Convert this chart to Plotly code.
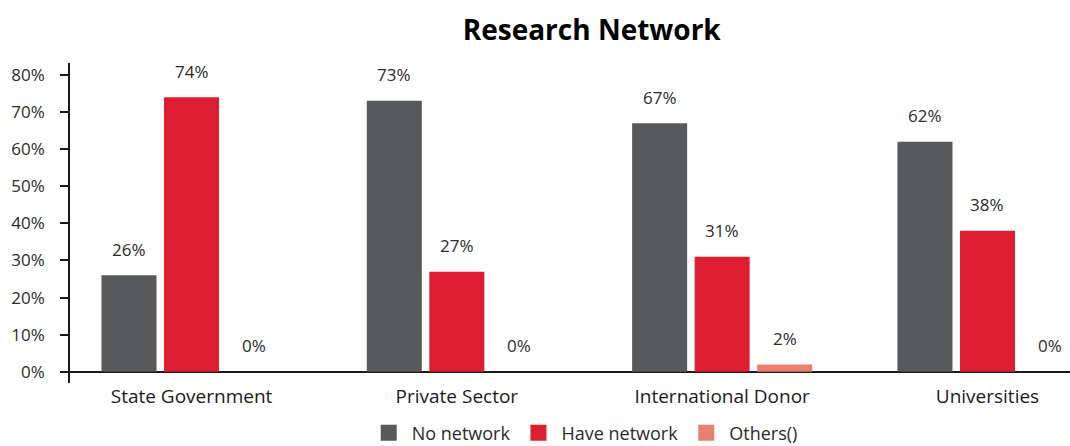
import plotly.graph_objects as go

# Survey results: share of respondents by research-network status
categories = ["State Government", "Private Sector", "International Donor", "Universities"]
no_network = [26, 73, 67, 62]
have_network = [74, 27, 31, 38]
others = [0, 0, 2, 0]

series_names = ["No network", "Have network", "Others()"]
series_values = [no_network, have_network, others]
series_colors = ["#58595b", "#de1e32", "#e9806e"]

FONT = "Open Sans"
TEXT_COLOR = "#2b2b2b"
BARGAP = 0.293
BARGROUPGAP = 0.12

fig = go.Figure()
xs = list(range(len(categories)))
for name, vals, color in zip(series_names, series_values, series_colors):
    fig.add_trace(go.Bar(
        x=xs, y=vals, name=name, showlegend=False,
        marker=dict(color=color, line=dict(width=0)),
        hoverinfo="skip",
    ))

# legend entries with larger square swatches
for name, color in zip(series_names, series_colors):
    fig.add_trace(go.Scatter(
        x=[None], y=[None], mode="markers", name=name,
        marker=dict(symbol="square", size=20, color=color, line=dict(width=0)),
        hoverinfo="skip",
    ))

# value labels above each bar, offset to the bar's slot within the group
slot = (1 - BARGAP) / len(series_names)
annotations = []
for k, vals in enumerate(series_values):
    offset = (k - (len(series_names) - 1) / 2) * slot
    for i, v in enumerate(vals):
        annotations.append(dict(
            x=i + offset, y=v, xref="x", yref="y",
            text=f"{v}%", showarrow=False, yshift=26,
            font=dict(family=FONT, size=17, color=TEXT_COLOR),
        ))

fig.update_layout(
    width=1070, height=446,
    margin=dict(l=70, r=0, t=63, b=63),
    paper_bgcolor="white", plot_bgcolor="white",
    barmode="group", bargap=BARGAP, bargroupgap=BARGROUPGAP,
    title=dict(
        text="<b>Research Network</b>", x=0.553, xanchor="center",
        y=0.933, yanchor="middle", xref="container", yref="container",
        font=dict(family=FONT, size=28, color="#000000"),
    ),
    font=dict(family=FONT, size=17, color=TEXT_COLOR),
    showlegend=True,
    legend=dict(
        orientation="h", x=0.546, xanchor="center", xref="container",
        y=0.029, yanchor="middle", yref="container",
        font=dict(family=FONT, size=18, color=TEXT_COLOR),
        traceorder="normal", itemwidth=36, itemsizing="trace",
    ),
    annotations=annotations,
)

fig.update_xaxes(
    range=[-0.458, 3.311], tickvals=xs, ticktext=categories,
    showline=False, showgrid=False, zeroline=False, ticks="",
    tickfont=dict(family=FONT, size=19, color="#1a1a1a"),
)
fig.update_yaxes(
    range=[-3, 83.2], tickvals=[0, 10, 20, 30, 40, 50, 60, 70, 80],
    ticktext=[f"{t}%" for t in range(0, 90, 10)],
    showline=True, linecolor="#1a1a1a", linewidth=1.5,
    ticks="outside", ticklen=8, tickcolor="#1a1a1a", tickwidth=1.5,
    ticklabelstandoff=12,
    showgrid=False, zeroline=True, zerolinecolor="#1a1a1a", zerolinewidth=1.5,
    tickfont=dict(family=FONT, size=17, color=TEXT_COLOR),
)

fig.write_html("out.html")
